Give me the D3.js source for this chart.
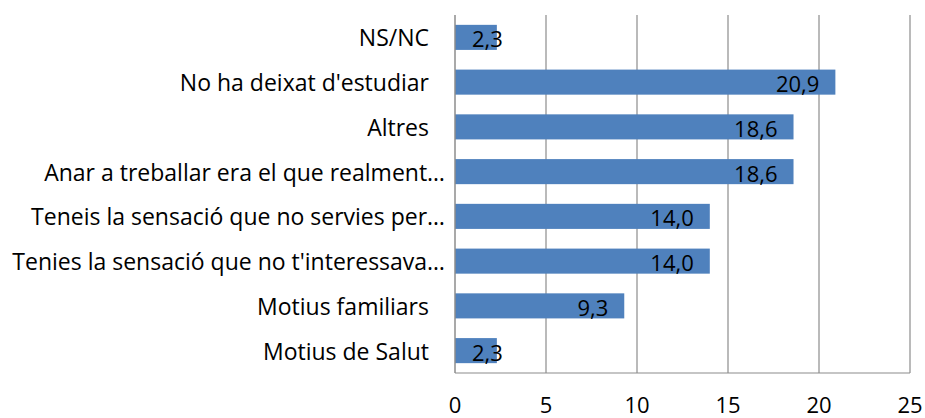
<!DOCTYPE html>
<html>
<head>
<meta charset="utf-8">
<script src="https://cdn.jsdelivr.net/npm/d3@7"></script>
<style>
  body { margin: 0; background: #fff; }
  text { font-family: "Open Sans", sans-serif; fill: #000; }
</style>
</head>
<body>
<div class="chart"></div>
<script>
// data, top to bottom as in the chart
const categories = [
    "NS/NC",
    "No ha deixat d'estudiar",
    "Altres",
    "Anar a treballar era el que realment…",
    "Teneis la sensació que no servies per…",
    "Tenies la sensació que no t'interessava…",
    "Motius familiars",
    "Motius de Salut"
];
const values = [2.3, 20.9, 18.6, 18.6, 14.0, 14.0, 9.3, 2.3];
const xTicks = [0, 5, 10, 15, 20, 25];

const total_width = 925;
const total_height = 418;
const margin = {top: 15, right: 15, bottom: 45, left: 455};
const fmt = d => d.toFixed(1).replace(".", ",");

const data = categories.map((c, i) => ({cat: c, value: values[i]}));

let svg = d3.select(".chart")
    .append("svg")
    .attr("width", total_width)
    .attr("height", total_height);

const x = d3.scaleLinear()
    .domain([0, 25])
    .range([margin.left, total_width - margin.right]);

const y = d3.scaleBand()
    .domain(categories)
    .range([margin.top, total_height - margin.bottom])
    .paddingInner(0.44)
    .paddingOuter(0.22);

const y0 = margin.top, y1 = total_height - margin.bottom;

// gridlines
svg.selectAll("grid")
    .data(xTicks.slice(1))
    .enter()
    .append("line")
    .attr("x1", d => x(d)).attr("x2", d => x(d))
    .attr("y1", y0).attr("y2", y1)
    .attr("stroke", "#8c8c8c")
    .attr("stroke-width", 1.2);

// bars
svg.selectAll("bar")
    .data(data)
    .enter()
    .append("rect")
    .attr("x", x(0))
    .attr("y", d => y(d.cat))
    .attr("width", d => x(d.value) - x(0))
    .attr("height", y.bandwidth())
    .attr("fill", "#4f81bd");

// axis lines
svg.append("line")
    .attr("x1", x(0)).attr("x2", x(0))
    .attr("y1", y0).attr("y2", y1)
    .attr("stroke", "#8c8c8c").attr("stroke-width", 1.5);
svg.append("line")
    .attr("x1", x(0)).attr("x2", x(25))
    .attr("y1", y1).attr("y2", y1)
    .attr("stroke", "#8c8c8c").attr("stroke-width", 1.2);

// x tick labels
svg.selectAll("xtick")
    .data(xTicks)
    .enter()
    .append("text")
    .text(d => d)
    .attr("x", d => x(d))
    .attr("y", 413)
    .attr("text-anchor", "middle")
    .attr("font-size", "22px");

// category labels (the truncated ones sit closer to the axis)
svg.selectAll("cat")
    .data(data)
    .enter()
    .append("text")
    .text(d => d.cat)
    .attr("x", d => d.cat.endsWith("…") ? x(0) - 10 : x(0) - 26)
    .attr("y", d => y(d.cat) + y.bandwidth() / 2)
    .attr("text-anchor", "end")
    .attr("dominant-baseline", "central")
    .attr("font-size", "23px");

// value labels, inside end; short bars push the label out
svg.selectAll("val")
    .data(data)
    .enter()
    .append("text")
    .text(d => fmt(d.value))
    .attr("y", d => y(d.cat) + y.bandwidth() / 2 + 1)
    .attr("dominant-baseline", "central")
    .attr("font-size", "22px")
    .each(function(d) {
        const w = this.getComputedTextLength();
        const left = Math.max(x(d.value) - 16 - w, x(0) + 17);
        d3.select(this).attr("x", left);
    });
</script>
</body>
</html>
